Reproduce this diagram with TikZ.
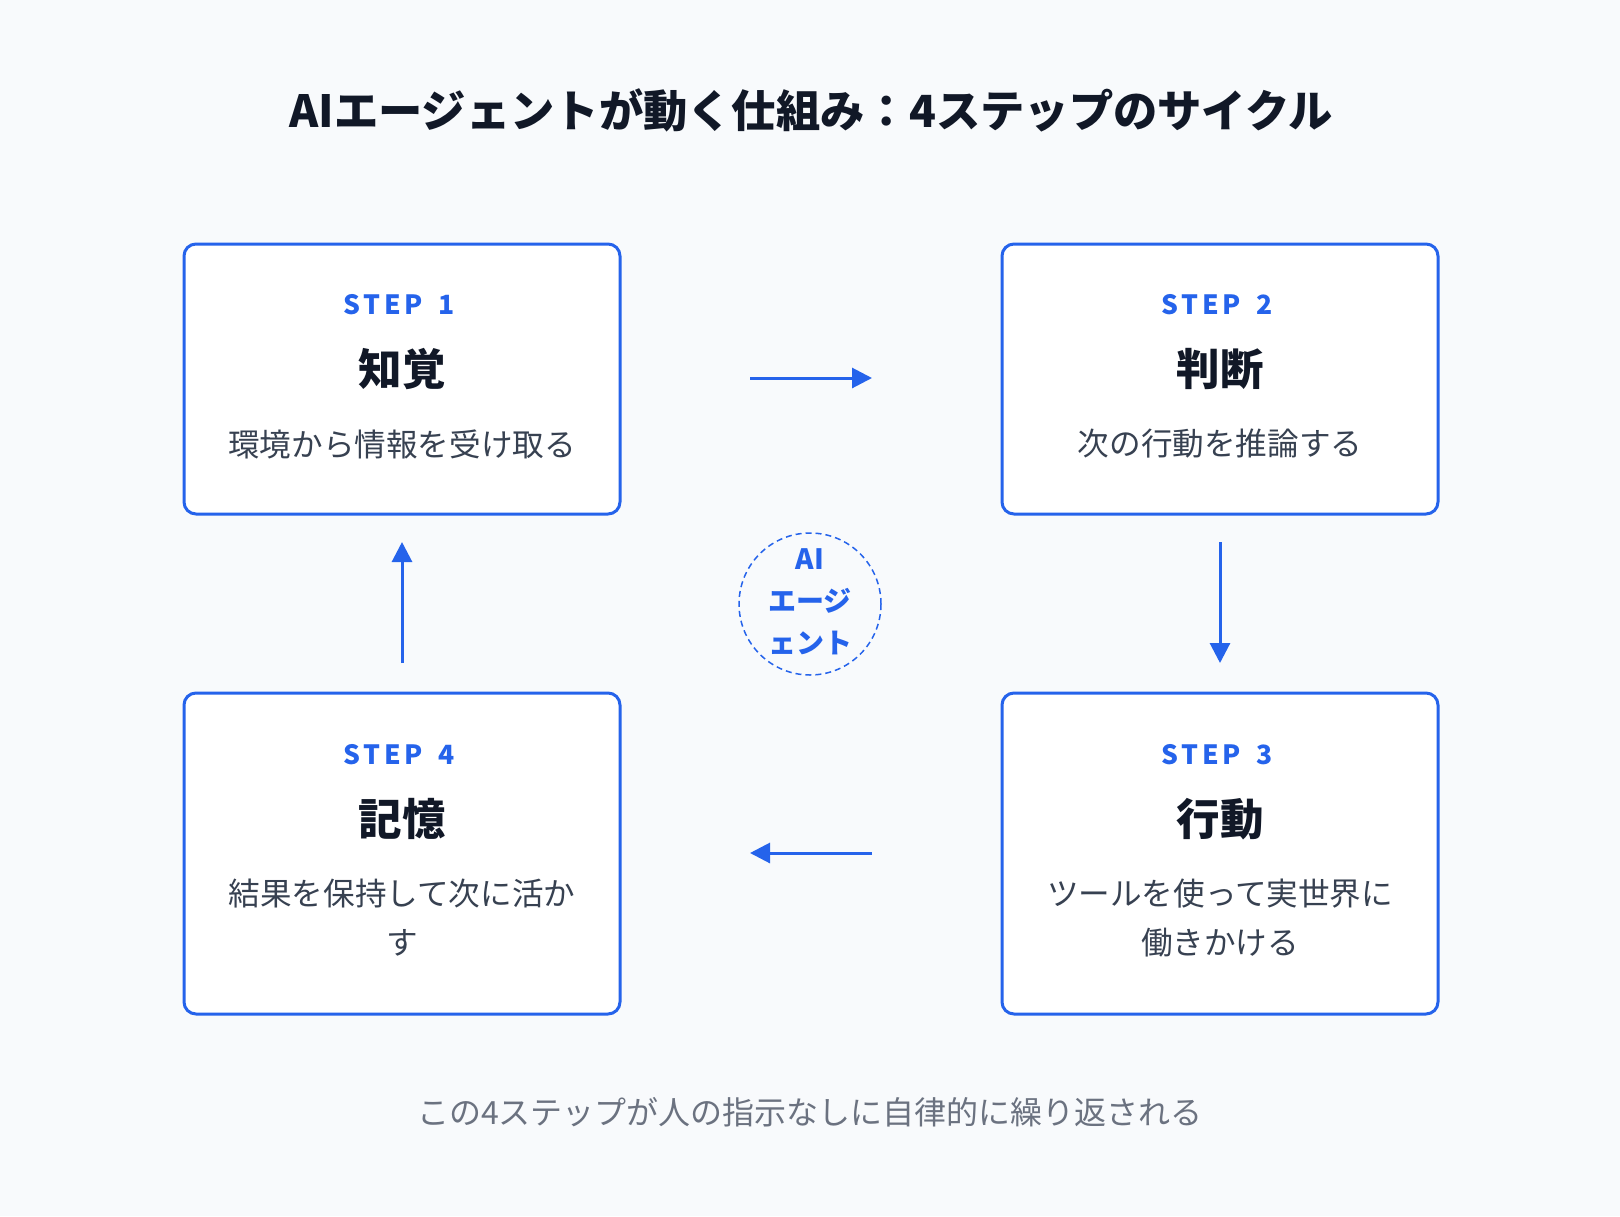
\documentclass[tikz,border=0pt]{standalone}
\usepackage{fontspec}
\setmainfont{Noto Sans CJK JP}
\newfontfamily\stepfont[LetterSpace=14]{Noto Sans CJK JP}
\usetikzlibrary{arrows.meta}
\definecolor{bgc}{HTML}{F8FAFC}
\definecolor{blu}{HTML}{2563EB}
\definecolor{dark}{HTML}{111827}
\definecolor{desc}{HTML}{374151}
\definecolor{foot}{HTML}{6B7280}
\begin{document}
\begin{tikzpicture}[x=1pt,y=-1pt,
  stepbox/.style={draw=blu,line width=3pt,fill=white,rounded corners=12pt},
  steplabel/.style={text=blu,font=\stepfont\fontsize{26.5}{30}\selectfont\bfseries,anchor=center},
  headlabel/.style={text=dark,font=\fontsize{43.5}{50}\selectfont\bfseries,anchor=center},
  desclabel/.style={text=desc,font=\fontsize{31.6}{49}\selectfont,anchor=center,align=center},
  flow/.style={draw=blu,line width=3pt,-{Triangle[length=20pt,width=20pt]}},
  agent/.style={circle,draw=blu,line width=1.5pt,dash pattern=on 6pt off 4pt,minimum size=142pt,inner sep=0pt}
]
\fill[bgc] (0,0) rectangle (1620,1216);
\useasboundingbox (0,0) rectangle (1620,1216);

\node[text=dark,font=\fontsize{44.3}{50}\selectfont\bfseries] (title) at (811,110) {AIエージェントが動く仕組み：4ステップのサイクル};

% boxes
\draw[stepbox] (184,244) rectangle (620,514);
\draw[stepbox] (1002,244) rectangle (1438,514);
\draw[stepbox] (1002,693) rectangle (1438,1014);
\draw[stepbox] (184,693) rectangle (620,1014);

\node[steplabel] (s1) at (399,305) {STEP\hspace{6pt} 1};
\node[headlabel] (h1) at (402,369) {知覚};
\node[desclabel] (d1) at (402,444) {環境から情報を受け取る};

\node[steplabel] (s2) at (1217,305) {STEP\hspace{6pt} 2};
\node[headlabel] (h2) at (1220,369) {判断};
\node[desclabel] (d2) at (1220,444) {次の行動を推論する};

\node[steplabel] (s3) at (1217,755) {STEP\hspace{6pt} 3};
\node[headlabel] (h3) at (1220,819) {行動};
\node[desclabel] (d3) at (1220,918) {ツールを使って実世界に\\働きかける};

\node[steplabel] (s4) at (399,755) {STEP\hspace{6pt} 4};
\node[headlabel] (h4) at (402,819) {記憶};
\node[desclabel] (d4) at (402,918) {結果を保持して次に活か\\す};

% arrow endpoints
\coordinate (a1s) at (750,378);
\coordinate (a1e) at (872,378);
\coordinate (a2s) at (1220,542);
\coordinate (a2e) at (1220,663);
\coordinate (a3s) at (872,853);
\coordinate (a3e) at (750,853);
\coordinate (a4s) at (402,663);
\coordinate (a4e) at (402,542);
\draw[flow] (a1s) -- (a1e);
\draw[flow] (a2s) -- (a2e);
\draw[flow] (a3s) -- (a3e);
\draw[flow] (a4s) -- (a4e);

\node[agent] (ag) at (810,604) {};
\node[text=blu,font=\fontsize{28}{42}\selectfont\bfseries,align=center] (agt) at (810,602) {AI\\エージ\\ェント};

\node[text=foot,font=\fontsize{32}{36}\selectfont] (ft) at (810,1112) {この4ステップが人の指示なしに自律的に繰り返される};
\end{tikzpicture}
\end{document}
